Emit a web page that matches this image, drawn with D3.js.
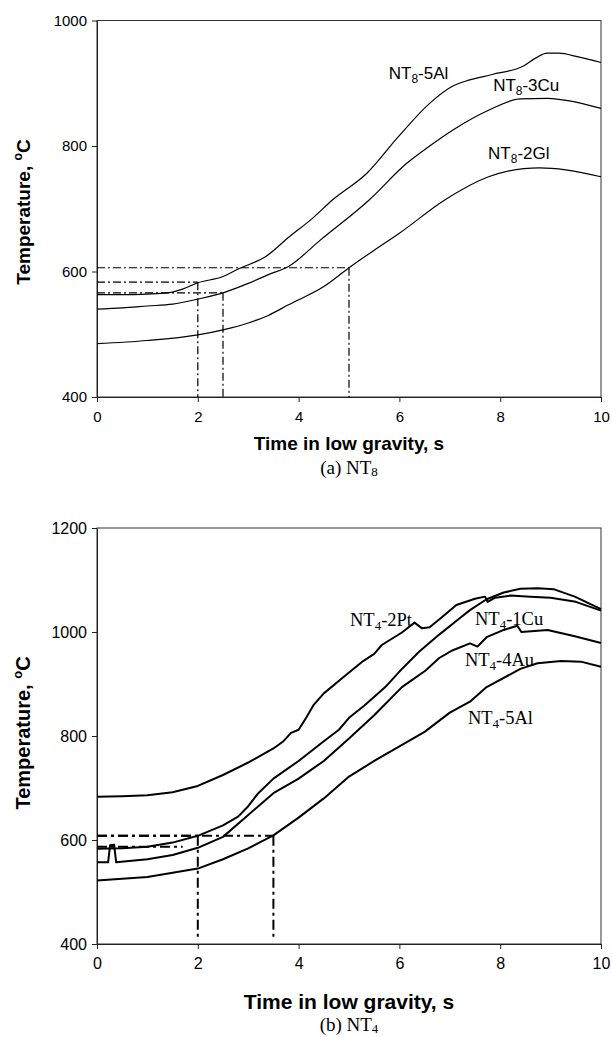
<!DOCTYPE html>
<html>
<head>
<meta charset="utf-8">
<script src="https://cdn.jsdelivr.net/npm/d3@7"></script>
<style>
  html, body { margin: 0; padding: 0; background: #fff; }
  svg { display: block; }
</style>
</head>
<body>
<svg id="chart" width="612" height="1037"></svg>
<script>
// ---------------- DATA ----------------
const timeTicks = [0, 2, 4, 6, 8, 10];
const nt8TempTicks = [400, 600, 800, 1000];
const nt4TempTicks = [400, 600, 800, 1000, 1200];

// (a) NT8 series: [time s, temperature °C]
const nt8_5Al = [[0,563],[0.5,563],[1,564],[1.4,566],[1.7,572],[2,582],[2.5,592],[2.8,604],[3.35,624],[3.81,655],[4.28,685],[4.67,714],[5.36,757],[5.98,815],[6.6,868],[7.07,896],[7.38,905],[7.84,914],[8.47,928],[8.7,940],[8.93,948],[9.16,948],[9.55,942],[10,933]];
const nt8_3Cu = [[0,540],[0.5,542],[1,545],[1.5,548],[2,556],[2.5,566],[3,581],[3.4,595],[3.8,608],[4.43,650],[5.4,714],[6.14,772],[6.6,800],[7.07,826],[7.77,857],[8.39,875],[8.93,876],[9.5,870],[10,860]];
const nt8_2Gl = [[0,485],[1,490],[2,499],[2.5,507],[3,518],[3.4,530],[3.8,547],[4.5,576],[5,606],[5.5,634],[6,661],[6.9,714],[7.77,751],[8.47,764],[8.78,765],[9.3,762],[10,751]];

// (b) NT4 series
const nt4_2Pt = [[0,683],[0.5,684],[1,686],[1.5,692],[2,704],[2.5,725],[3,749],[3.5,776],[3.7,790],[3.85,806],[4.0,812],[4.15,835],[4.3,860],[4.5,882],[4.85,910],[5.25,942],[5.5,958],[5.65,975],[6.05,999],[6.3,1018],[6.45,1007],[6.6,1009],[6.8,1025],[7.13,1052],[7.5,1064],[7.7,1068],[7.75,1058],[7.9,1066],[8.2,1070],[8.6,1068],[9,1066],[9.5,1058],[10,1041]];
const nt4_1Cu = [[0,583],[0.5,584],[1,587],[1.5,595],[2,608],[2.5,628],[2.8,645],[3,665],[3.2,690],[3.5,718],[4,752],[4.5,790],[4.8,812],[5,835],[5.3,858],[5.72,894],[6.05,929],[6.39,962],[6.79,995],[7.19,1026],[7.4,1042],[7.73,1063],[8.07,1076],[8.4,1083],[8.74,1084],[9.07,1082],[9.48,1068],[10,1044]];
const nt4_4Au = [[0,557],[0.22,557],[0.26,590],[0.34,591],[0.38,557],[1,563],[1.5,571],[2,585],[2.5,606],[3,648],[3.5,690],[4,718],[4.5,752],[5,795],[5.5,840],[6.05,894],[6.52,926],[6.79,950],[7.06,965],[7.4,978],[7.55,972],[7.73,990],[8.07,1004],[8.34,1012],[8.42,1000],[8.94,1004],[9.48,992],[10,979]];
const nt4_5Al = [[0,522],[1,529],[2,545],[2.5,563],[3,584],[3.5,609],[4,643],[4.5,680],[5,722],[5.5,752],[6,780],[6.5,808],[7,845],[7.4,866],[7.73,894],[8.4,929],[8.74,940],[9.21,944],[9.6,943],[10,933]];

// label texts
const nt8Names = [["NT","8","-5Al"],["NT","8","-3Cu"],["NT","8","-2Gl"]];
const nt4Names = [["NT","4","-2Pt"],["NT","4","-1Cu"],["NT","4","-4Au"],["NT","4","-5Al"]];
// label anchors [time, temperature]
const nt8LabelAt = [[5.79,907],[7.86,888],[7.76,779]];
const nt4LabelAt = [[5.02,1012],[7.5,1014],[7.3,935],[7.36,823]];

// guide lines: [time, temperature]
const nt8Guides = [[2,583],[2.5,566],[5,606]];
const nt4Guides = [[2,608],[3.5,608]];
const nt4ExtraH = [[1.7,587]];

// ---------------- DRAW ----------------
const svg = d3.select("#chart");
svg.append("rect").attr("width",612).attr("height",1037).attr("fill","#fff");

function panel(o) {
  const x = d3.scaleLinear().domain([0,10]).range([o.left,o.right]);
  const y = d3.scaleLinear().domain(o.yDomain).range([o.bottom,o.top]);
  const g = svg.append("g");

  // box
  g.append("rect").attr("x",o.left).attr("y",o.top)
    .attr("width",o.right-o.left).attr("height",o.bottom-o.top)
    .attr("fill","none").attr("stroke","#333").attr("stroke-width",1);

  // axes
  const ax = g.append("g").attr("transform",`translate(0,${o.bottom})`)
    .call(d3.axisBottom(x).tickValues(timeTicks).tickFormat(d3.format("d"))
      .tickSize(5).tickSizeOuter(0).tickPadding(9));
  const ay = g.append("g").attr("transform",`translate(${o.left},0)`)
    .call(d3.axisLeft(y).tickValues(o.yTicks).tickFormat(d3.format("d"))
      .tickSize(5).tickSizeOuter(0).tickPadding(5));
  [ax,ay].forEach(a => {
    a.select(".domain").attr("stroke","#222");
    a.selectAll(".tick line").attr("stroke","#222");
    a.selectAll("text").attr("font-family","Liberation Sans, Arial, sans-serif")
      .attr("font-size",o.tickSize).attr("fill","#000");
  });

  // guides
  const gl = g.append("g").attr("fill","none").attr("stroke","#000")
    .attr("stroke-width",o.guideW).attr("stroke-dasharray",o.guideDash);
  o.guides.forEach(([t,v]) => {
    gl.append("line").attr("x1",x(0)).attr("x2",x(t)).attr("y1",y(v)).attr("y2",y(v));
    gl.append("line").attr("x1",x(t)).attr("x2",x(t)).attr("y1",y(v)).attr("y2",y(o.guideEnd));
  });
  (o.extraH||[]).forEach(([t,v]) => {
    gl.append("line").attr("x1",x(0)).attr("x2",x(t)).attr("y1",y(v)).attr("y2",y(v));
  });

  // curves
  const line = d3.line().x(d=>x(d[0])).y(d=>y(d[1])).curve(o.curve);
  o.series.forEach(s => {
    g.append("path").datum(s).attr("d",line).attr("fill","none")
      .attr("stroke","#000").attr("stroke-width",o.lineW).attr("stroke-linejoin","round");
  });

  // labels
  o.names.forEach((n,i) => {
    const [t,v] = o.labelAt[i];
    const tx = g.append("text").attr("x",x(t)).attr("y",y(v))
      .attr("font-family",o.labelFont).attr("font-size",o.labelSize).attr("fill","#000");
    tx.append("tspan").text(n[0]);
    tx.append("tspan").text(n[1]).attr("font-size",o.labelSize*0.7).attr("dy",4);
    tx.append("tspan").text(n[2]).attr("dy",-4);
  });

  // y title
  const yt = g.append("text").attr("transform",`translate(${o.yTitleX},${o.yTitleY}) rotate(-90)`)
    .attr("text-anchor","middle").attr("font-family","Liberation Sans, Arial, sans-serif")
    .attr("font-weight","bold").attr("font-size",o.titleSize).attr("fill","#000");
  yt.append("tspan").text("Temperature, ");
  yt.append("tspan").text("o").attr("font-size",o.titleSize*0.65).attr("dy",-8);
  yt.append("tspan").text("C").attr("dy",8);

  // x title
  g.append("text").attr("x",(o.left+o.right)/2).attr("y",o.xTitleY)
    .attr("text-anchor","middle").attr("font-family","Liberation Sans, Arial, sans-serif")
    .attr("font-weight","bold").attr("font-size",o.xTitleSize).attr("fill","#000")
    .text("Time in low gravity, s");

  // caption
  const cap = g.append("text").attr("x",(o.left+o.right)/2).attr("y",o.capY)
    .attr("text-anchor","middle").attr("font-family","Liberation Serif, Times New Roman, serif")
    .attr("font-size",19).attr("fill","#000");
  cap.append("tspan").text(o.cap[0]);
  cap.append("tspan").text(o.cap[1]).attr("font-size",13).attr("dy",2);
}

panel({
  left:97, right:601, top:20.5, bottom:397,
  yDomain:[400,1000], yTicks:nt8TempTicks, tickSize:15, titleSize:19, xTitleSize:19,
  series:[nt8_5Al, nt8_3Cu, nt8_2Gl], curve:d3.curveMonotoneX, lineW:1.2,
  guides:nt8Guides, guideEnd:400, guideW:1.2, guideDash:"8,3,2,3",
  names:nt8Names, labelAt:nt8LabelAt, labelFont:"Liberation Sans, Arial, sans-serif", labelSize:17,
  yTitleX:30, yTitleY:212, xTitleY:450, capY:474, cap:["(a) NT","8"]
});

panel({
  left:97, right:601, top:528, bottom:944,
  yDomain:[400,1200], yTicks:nt4TempTicks, tickSize:16, titleSize:20, xTitleSize:21,
  series:[nt4_2Pt, nt4_1Cu, nt4_4Au, nt4_5Al], curve:d3.curveLinear, lineW:2,
  guides:nt4Guides, guideEnd:410, guideW:2, guideDash:"10,4,3,4",
  extraH:nt4ExtraH,
  names:nt4Names, labelAt:nt4LabelAt, labelFont:"Liberation Serif, Times New Roman, serif", labelSize:18.5,
  yTitleX:30, yTitleY:733, xTitleY:1009, capY:1031, cap:["(b) NT","4"]
});
</script>
</body>
</html>
